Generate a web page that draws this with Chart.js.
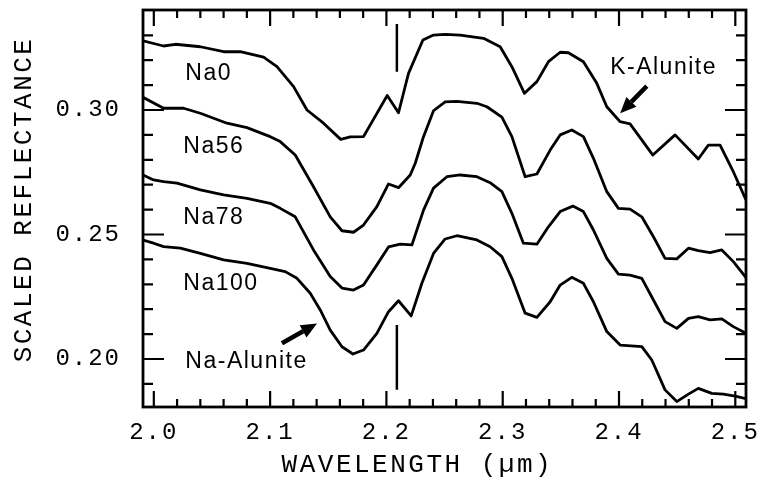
<!DOCTYPE html>
<html>
<head>
<meta charset="utf-8">
<script src="https://cdn.jsdelivr.net/npm/chart.js@4.4.1/dist/chart.umd.min.js"></script>
<style>
  html, body { margin: 0; padding: 0; background: #fff; }
  #wrap { width: 771px; height: 481px; }
</style>
</head>
<body>
<div id="wrap"><canvas id="spectra"></canvas></div>
<script>
// spectra (wavelength in um, scaled reflectance)
const na0Wl = [1.9907, 2.0084, 2.0185, 2.0400, 2.0600, 2.0743, 2.0944, 2.1059, 2.1202, 2.1317, 2.1459, 2.1607, 2.1689, 2.1803, 2.2007, 2.2104, 2.2190, 2.2314, 2.2405, 2.2505, 2.2634, 2.2835, 2.2978, 2.3079, 2.3187, 2.3294, 2.3393, 2.3494, 2.3565, 2.3694, 2.3809, 2.3895, 2.4010, 2.4095, 2.4291, 2.4482, 2.4682, 2.4768, 2.4869, 2.4983, 2.5092];
const na0R = [0.3278, 0.3257, 0.3264, 0.3254, 0.3234, 0.3234, 0.3212, 0.3174, 0.3094, 0.3000, 0.2947, 0.2882, 0.2892, 0.2893, 0.3058, 0.2989, 0.3147, 0.3281, 0.3301, 0.3304, 0.3301, 0.3288, 0.3254, 0.3174, 0.3067, 0.3114, 0.3194, 0.3232, 0.3230, 0.3194, 0.3107, 0.3013, 0.2953, 0.2944, 0.2819, 0.2900, 0.2803, 0.2859, 0.2859, 0.2752, 0.2639];

const na56Wl = [1.9907, 2.0084, 2.0256, 2.0400, 2.0629, 2.0801, 2.1001, 2.1087, 2.1216, 2.1373, 2.1517, 2.1618, 2.1717, 2.1803, 2.1918, 2.2018, 2.2104, 2.2205, 2.2248, 2.2319, 2.2405, 2.2505, 2.2606, 2.2778, 2.2864, 2.2993, 2.3079, 2.3193, 2.3294, 2.3408, 2.3494, 2.3594, 2.3694, 2.3780, 2.3895, 2.3995, 2.4095, 2.4196, 2.4296, 2.4396, 2.4497, 2.4597, 2.4682, 2.4783, 2.4884, 2.4983, 2.5092];
const na56R = [0.3051, 0.3007, 0.3007, 0.2987, 0.2947, 0.2929, 0.2893, 0.2873, 0.2819, 0.2692, 0.2571, 0.2515, 0.2509, 0.2538, 0.2612, 0.2703, 0.2688, 0.2739, 0.2786, 0.2893, 0.2997, 0.3033, 0.3035, 0.3027, 0.3013, 0.2971, 0.2893, 0.2732, 0.2743, 0.2839, 0.2900, 0.2920, 0.2893, 0.2806, 0.2672, 0.2605, 0.2602, 0.2571, 0.2491, 0.2404, 0.2402, 0.2445, 0.2435, 0.2427, 0.2438, 0.2391, 0.2327];

const na78Wl = [1.9907, 1.9998, 2.0084, 2.0199, 2.0400, 2.0600, 2.0801, 2.1001, 2.1087, 2.1216, 2.1373, 2.1517, 2.1618, 2.1717, 2.1803, 2.1918, 2.2018, 2.2119, 2.2219, 2.2319, 2.2405, 2.2520, 2.2634, 2.2778, 2.2892, 2.2993, 2.3079, 2.3178, 2.3294, 2.3393, 2.3494, 2.3603, 2.3694, 2.3780, 2.3895, 2.3995, 2.4095, 2.4196, 2.4296, 2.4396, 2.4497, 2.4597, 2.4682, 2.4783, 2.4884, 2.4983, 2.5092];
const na78R = [0.2739, 0.2719, 0.2712, 0.2706, 0.2679, 0.2659, 0.2645, 0.2625, 0.2605, 0.2571, 0.2438, 0.2331, 0.2285, 0.2277, 0.2297, 0.2378, 0.2450, 0.2461, 0.2458, 0.2598, 0.2686, 0.2732, 0.2739, 0.2732, 0.2708, 0.2672, 0.2585, 0.2465, 0.2461, 0.2531, 0.2592, 0.2614, 0.2592, 0.2518, 0.2404, 0.2341, 0.2337, 0.2324, 0.2237, 0.2150, 0.2123, 0.2163, 0.2170, 0.2157, 0.2161, 0.2130, 0.2103];

const na100Wl = [1.9907, 1.9998, 2.0084, 2.0228, 2.0400, 2.0600, 2.0801, 2.1001, 2.1130, 2.1231, 2.1345, 2.1431, 2.1517, 2.1618, 2.1712, 2.1803, 2.1918, 2.2018, 2.2104, 2.2213, 2.2305, 2.2405, 2.2505, 2.2606, 2.2778, 2.2892, 2.2993, 2.3079, 2.3193, 2.3294, 2.3408, 2.3494, 2.3594, 2.3694, 2.3780, 2.3895, 2.4010, 2.4196, 2.4282, 2.4396, 2.4497, 2.4597, 2.4682, 2.4798, 2.4897, 2.4998, 2.5092];
const na100R = [0.2478, 0.2465, 0.2451, 0.2445, 0.2424, 0.2398, 0.2384, 0.2364, 0.2351, 0.2324, 0.2264, 0.2197, 0.2116, 0.2049, 0.2020, 0.2036, 0.2103, 0.2190, 0.2234, 0.2173, 0.2304, 0.2424, 0.2482, 0.2495, 0.2478, 0.2451, 0.2411, 0.2324, 0.2184, 0.2167, 0.2230, 0.2297, 0.2328, 0.2304, 0.2230, 0.2110, 0.2056, 0.2050, 0.1996, 0.1876, 0.1829, 0.1859, 0.1882, 0.1862, 0.1859, 0.1851, 0.1841];

// vertical markers at 2.21 um
const markerWl = 2.209;
const markerTopR = [0.3345, 0.3154];
const markerBottomR = [0.2137, 0.1876];

// axes
const xMajorTicks = [2.0, 2.1, 2.2, 2.3, 2.4, 2.5];
const xTickLabels = ['2.0', '2.1', '2.2', '2.3', '2.4', '2.5'];
const yMajorTicks = [0.20, 0.25, 0.30];
const yTickLabels = ['0.20', '0.25', '0.30'];

// text + arrows
const noteText = ['Na0', 'Na56', 'Na78', 'Na100', 'Na-Alunite', 'K-Alunite'];
const noteWl = [2.0271, 2.0254, 2.0254, 2.0254, 2.0271, 2.3924];
const noteR = [0.3147, 0.2853, 0.2566, 0.2303, 0.1990, 0.3171];
const arrowFromWl = [2.1102, 2.4239];
const arrowFromR = [0.2063, 0.3096];
const arrowToWl = [2.1403, 2.4010];
const arrowToR = [0.2143, 0.2987];

const xTickValues = [];
for (let i = 0; i <= 25; i++) xTickValues.push(Math.round((2.0 + i * 0.02) * 1000) / 1000);
const yTickValues = [];
for (let i = 0; i <= 14; i++) yTickValues.push(Math.round((0.19 + i * 0.01) * 1000) / 1000);

function pairs(wl, r) { return wl.map((w, i) => ({ x: w, y: r[i] })); }
function majorIdx(v, list) { return list.findIndex(t => Math.abs(t - v) < 1e-6); }

function curve(wl, r) {
  return {
    data: pairs(wl, r),
    borderColor: '#000',
    borderWidth: 2.8,
    borderJoinStyle: 'round',
    pointRadius: 0,
    tension: 0,
    fill: false
  };
}

const frameAndTicks = {
  id: 'frameAndTicks',
  beforeDraw(chart) { chart.ctx.letterSpacing = '2.5px'; },
  beforeDatasetsDraw(chart) { chart.ctx.letterSpacing = '2px'; },
  afterDraw(chart) {
    const { ctx, chartArea: a, scales: { x, y } } = chart;
    ctx.save();
    ctx.letterSpacing = '0px';
    ctx.strokeStyle = '#000';
    ctx.lineWidth = 2.2;
    ctx.beginPath();
    x.ticks.forEach(t => {
      const px = x.getPixelForValue(t.value);
      const len = majorIdx(t.value, xMajorTicks) >= 0 ? 16 : 8;
      ctx.moveTo(px, a.bottom); ctx.lineTo(px, a.bottom - len);
      ctx.moveTo(px, a.top); ctx.lineTo(px, a.top + len);
    });
    y.ticks.forEach(t => {
      const py = y.getPixelForValue(t.value);
      const len = majorIdx(t.value, yMajorTicks) >= 0 ? 21 : 10;
      ctx.moveTo(a.left, py); ctx.lineTo(a.left + len, py);
      ctx.moveTo(a.right, py); ctx.lineTo(a.right - len, py);
    });
    ctx.stroke();
    ctx.lineWidth = 2.8;
    ctx.strokeRect(a.left, a.top, a.right - a.left, a.bottom - a.top);

    // arrows
    ctx.fillStyle = '#000';
    arrowFromWl.forEach((w, i) => {
      const x0 = x.getPixelForValue(w), y0 = y.getPixelForValue(arrowFromR[i]);
      const x1 = x.getPixelForValue(arrowToWl[i]), y1 = y.getPixelForValue(arrowToR[i]);
      const ang = Math.atan2(y1 - y0, x1 - x0);
      const head = 16, half = 7;
      const bx = x1 - head * Math.cos(ang), by = y1 - head * Math.sin(ang);
      ctx.lineWidth = 4.5;
      ctx.beginPath();
      ctx.moveTo(x0, y0); ctx.lineTo(bx, by);
      ctx.stroke();
      ctx.beginPath();
      ctx.moveTo(x1, y1);
      ctx.lineTo(bx + half * Math.sin(ang), by - half * Math.cos(ang));
      ctx.lineTo(bx - half * Math.sin(ang), by + half * Math.cos(ang));
      ctx.closePath();
      ctx.fill();
    });

    // labels
    ctx.font = "23px 'Liberation Sans', Arial, sans-serif";
    ctx.letterSpacing = '1.5px';
    ctx.textAlign = 'left';
    ctx.textBaseline = 'middle';
    noteText.forEach((s, i) => {
      ctx.fillText(s, x.getPixelForValue(noteWl[i]), y.getPixelForValue(noteR[i]));
    });
    ctx.restore();
    ctx.letterSpacing = '0px';
  }
};

const tickFont = { family: "'Liberation Mono', 'DejaVu Sans Mono', monospace", size: 24 };
const titleFont = { family: "'Liberation Mono', 'DejaVu Sans Mono', monospace", size: 26 };

new Chart(document.getElementById('spectra'), {
  type: 'line',
  data: {
    datasets: [
      curve(na0Wl, na0R),
      curve(na56Wl, na56R),
      curve(na78Wl, na78R),
      curve(na100Wl, na100R),
      { data: [{ x: markerWl, y: markerTopR[0] }, { x: markerWl, y: markerTopR[1] }], borderColor: '#000', borderWidth: 2.5, pointRadius: 0 },
      { data: [{ x: markerWl, y: markerBottomR[0] }, { x: markerWl, y: markerBottomR[1] }], borderColor: '#000', borderWidth: 2.5, pointRadius: 0 }
    ]
  },
  options: {
    responsive: true,
    maintainAspectRatio: false,
    animation: false,
    layout: { padding: { left: 0, right: 25, top: 10, bottom: 0 } },
    plugins: { legend: { display: false }, tooltip: { enabled: false } },
    scales: {
      x: {
        type: 'linear',
        min: 1.9907,
        max: 2.5092,
        afterBuildTicks: s => { s.ticks = xTickValues.map(v => ({ value: v })); },
        afterFit: s => { s.height = 74; s.paddingLeft = 0; s.paddingRight = 0; },
        grid: { display: false, drawTicks: false, tickLength: 0 },
        border: { display: false },
        ticks: {
          z: 1, autoSkip: false, maxRotation: 0, minRotation: 0, padding: 11,
          color: '#000', font: tickFont,
          callback: v => { const i = majorIdx(v, xMajorTicks); return i >= 0 ? xTickLabels[i] : ''; }
        },
        title: { display: true, text: 'WAVELENGTH (µm)   ', color: '#000', font: titleFont, padding: { top: 0, bottom: 0 } }
      },
      y: {
        type: 'linear',
        min: 0.18072,
        max: 0.34016,
        afterBuildTicks: s => { s.ticks = yTickValues.map(v => ({ value: v })); },
        afterFit: s => { s.width = 143; s.paddingTop = 0; s.paddingBottom = 0; },
        grid: { display: false, drawTicks: false, tickLength: 0 },
        border: { display: false },
        ticks: {
          z: 1, autoSkip: false, padding: 22,
          color: '#000', font: tickFont,
          callback: v => { const i = majorIdx(v, yMajorTicks); return i >= 0 ? yTickLabels[i] : ''; }
        },
        title: { display: true, text: ' SCALED REFLECTANCE', color: '#000', font: titleFont, padding: { top: 9, bottom: 0 } }
      }
    }
  },
  plugins: [frameAndTicks]
});
</script>
</body>
</html>
